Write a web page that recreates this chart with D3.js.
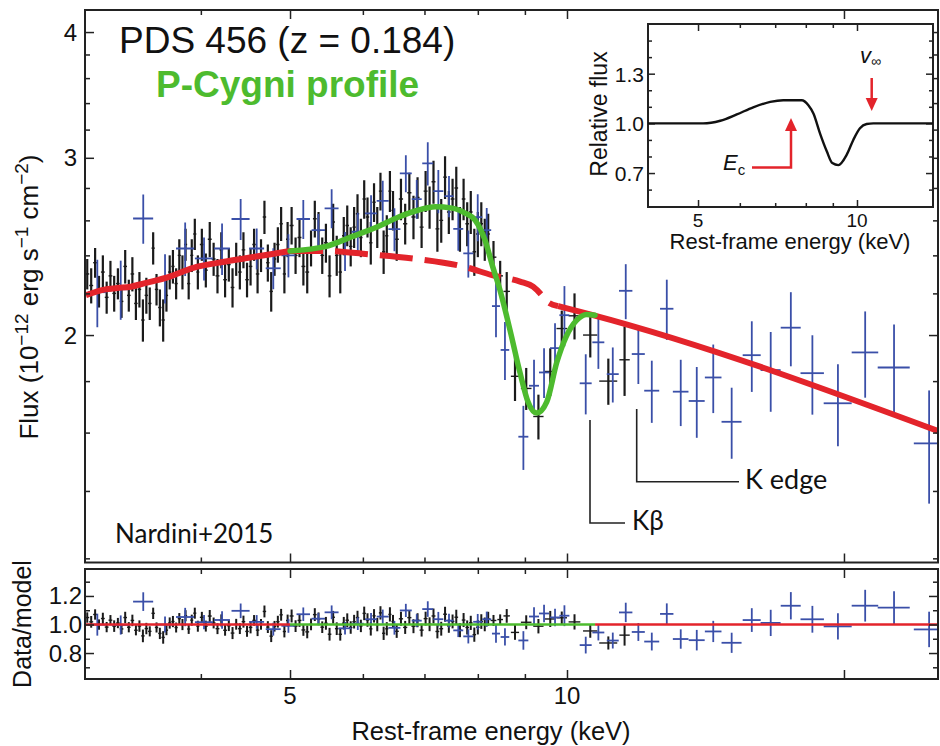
<!DOCTYPE html>
<html><head><meta charset="utf-8">
<script src="https://cdn.jsdelivr.net/npm/d3@7"></script>
<style>
html,body{margin:0;padding:0;background:#fff;}
svg{display:block;}
text{font-family:"Liberation Sans", Arial, Helvetica, sans-serif;fill:#111;}
.lato{font-family:Lato, "Open Sans", sans-serif;}
.axis path.domain{display:none;}
.axis line{stroke:#222;stroke-width:1.5;}
</style></head><body>
<svg id="chart" width="940" height="746"></svg>
<script>
// ---------------- DATA ----------------
// XMM-Newton (black): [energy keV, flux, error, half bin width]
const pnPoints = [
[3.01,2.30,0.08,0.015],[3.04,2.24,0.09,0.015],[3.07,2.36,0.08,0.015],[3.10,2.21,0.08,0.015],[3.13,2.31,0.09,0.015],
[3.16,2.18,0.08,0.015],[3.19,2.29,0.08,0.015],[3.22,2.20,0.09,0.015],[3.25,2.25,0.08,0.015],[3.28,2.16,0.08,0.015],
[3.31,2.34,0.09,0.015],[3.34,2.19,0.08,0.015],[3.37,2.30,0.09,0.015],[3.40,2.15,0.08,0.015],[3.43,2.22,0.09,0.015],
[3.46,2.07,0.10,0.015],[3.49,2.19,0.09,0.015],[3.52,2.15,0.08,0.015],[3.55,2.44,0.09,0.015],[3.58,2.22,0.08,0.015],
[3.61,2.13,0.09,0.015],[3.64,2.07,0.10,0.015],[3.67,2.19,0.08,0.015],[3.70,2.31,0.09,0.015],[3.73,2.34,0.09,0.015],
[3.76,2.25,0.08,0.015],[3.79,2.40,0.09,0.015],[3.82,2.31,0.09,0.015],[3.85,2.46,0.09,0.015],[3.88,2.25,0.08,0.015],
[3.91,2.40,0.09,0.015],[3.94,2.52,0.09,0.015],[3.97,2.31,0.09,0.015],
[4.01,2.46,0.09,0.02],[4.05,2.32,0.09,0.02],[4.09,2.49,0.10,0.02],[4.13,2.38,0.09,0.02],[4.17,2.29,0.09,0.02],
[4.21,2.43,0.10,0.02],[4.25,2.27,0.09,0.02],[4.29,2.35,0.09,0.02],[4.33,2.23,0.10,0.02],[4.37,2.38,0.09,0.02],
[4.41,2.31,0.09,0.02],[4.45,2.43,0.10,0.02],[4.49,2.27,0.09,0.02],[4.53,2.34,0.10,0.02],[4.57,2.46,0.09,0.02],
[4.61,2.30,0.10,0.02],[4.65,2.40,0.09,0.02],[4.69,2.62,0.10,0.02],[4.73,2.36,0.10,0.02],[4.77,2.21,0.10,0.02],
[4.81,2.38,0.09,0.02],[4.85,2.46,0.10,0.02],[4.89,2.58,0.10,0.02],[4.93,2.30,0.10,0.02],[4.97,2.49,0.10,0.02],
[5.02,2.57,0.11,0.025],[5.07,2.40,0.10,0.025],[5.12,2.50,0.11,0.025],[5.17,2.34,0.10,0.025],[5.22,2.31,0.11,0.025],
[5.27,2.44,0.10,0.025],[5.32,2.61,0.11,0.025],[5.37,2.54,0.11,0.025],[5.42,2.40,0.10,0.025],[5.47,2.47,0.11,0.025],
[5.52,2.29,0.11,0.025],[5.57,2.59,0.11,0.025],[5.62,2.40,0.11,0.025],[5.67,2.31,0.11,0.025],[5.72,2.51,0.11,0.025],
[5.77,2.57,0.12,0.025],[5.82,2.45,0.11,0.025],[5.87,2.56,0.12,0.025],[5.92,2.64,0.12,0.025],[5.97,2.50,0.11,0.025],
[6.02,2.73,0.12,0.025],[6.07,2.62,0.12,0.025],[6.12,2.47,0.12,0.025],[6.17,2.71,0.12,0.025],[6.22,2.56,0.12,0.025],
[6.27,2.78,0.12,0.025],[6.32,2.42,0.12,0.025],[6.37,2.51,0.12,0.025],[6.42,2.78,0.13,0.025],[6.47,2.66,0.12,0.025],
[6.53,2.49,0.12,0.035],[6.60,2.73,0.13,0.035],[6.67,2.58,0.12,0.035],[6.74,2.77,0.13,0.035],[6.81,2.62,0.13,0.035],
[6.88,2.74,0.13,0.035],[6.95,2.56,0.12,0.035],[7.02,2.78,0.13,0.035],[7.09,2.68,0.13,0.035],[7.16,2.84,0.14,0.035],
[7.23,2.55,0.13,0.035],[7.30,2.60,0.13,0.035],[7.37,2.87,0.14,0.035],[7.44,2.65,0.13,0.035],[7.51,2.73,0.13,0.035],
[7.58,2.80,0.14,0.035],[7.65,2.55,0.13,0.035],[7.72,2.73,0.13,0.035],[7.79,2.58,0.13,0.035],[7.86,2.65,0.13,0.035],
[7.93,2.42,0.13,0.035],[8.00,2.52,0.13,0.035],[8.07,2.58,0.13,0.035],[8.14,2.49,0.12,0.035],[8.21,2.52,0.12,0.035],
[8.32,2.39,0.09,0.06],[8.46,2.29,0.08,0.06],[8.60,2.21,0.10,0.07],[8.78,1.82,0.10,0.09],[9.03,1.77,0.085,0.12],
[9.31,1.66,0.085,0.12],[9.59,1.84,0.10,0.13],[9.87,2.03,0.085,0.13],[10.19,2.09,0.11,0.15],[10.60,2.00,0.10,0.19],
[11.09,1.80,0.095,0.25],[11.55,1.89,0.15,0.15]
];
// NuSTAR (blue): [energy keV, flux, error, half bin width]
const nuPoints = [
[3.087,2.206,0.17,0.07],[3.273,2.221,0.15,0.074],[3.463,2.611,0.147,0.087],[3.657,2.278,0.128,0.082],
[3.846,2.438,0.149,0.087],[4.032,2.383,0.117,0.091],[4.218,2.438,0.144,0.084],[4.419,2.608,0.122,0.10],
[4.600,2.438,0.114,0.086],[4.795,2.330,0.109,0.09],[4.980,2.400,0.118,0.087],[5.169,2.608,0.116,0.087],
[5.367,2.543,0.095,0.09],[5.549,2.672,0.119,0.097],[5.738,2.424,0.108,0.093],[5.924,2.533,0.112,0.089],
[6.124,2.642,0.111,0.092],[6.306,2.719,0.127,0.095],[6.493,2.548,0.125,0.098],[6.681,2.895,0.122,0.10],
[6.866,2.730,0.121,0.086],[7.058,2.962,0.146,0.097],[7.247,2.780,0.137,0.091],[7.443,2.748,0.129,0.084],
[7.618,2.550,0.125,0.095],[7.812,2.411,0.13,0.098],[7.998,2.619,0.141,0.09],[8.180,2.543,0.131,0.092],
[8.372,2.137,0.147,0.084],[8.562,1.933,0.128,0.092],[8.966,1.585,0.116,0.112],[9.208,1.781,0.109,0.115],
[9.442,1.836,0.104,0.118],[9.705,1.941,0.114,0.121],[9.936,2.093,0.144,0.124],[10.48,1.791,0.123,0.157],
[10.817,1.967,0.116,0.162],[11.214,1.829,0.115,0.168],[11.584,2.213,0.139,0.194],[11.955,1.915,0.127,0.195],
[12.364,1.761,0.125,0.232],[12.837,2.124,0.146,0.215],[13.293,1.757,0.133,0.26],[13.837,1.720,0.139,0.277],
[14.42,1.815,0.142,0.30],[15.10,1.640,0.133,0.378],[15.88,1.910,0.154,0.358],[16.65,1.846,0.168,0.417],
[17.51,2.034,0.172,0.438],[18.48,1.833,0.166,0.541],[19.70,1.711,0.16,0.69],[21.09,1.922,0.189,0.70],
[22.67,1.857,0.192,0.908],[24.75,1.561,0.201,0.93]
];
// continuum model (red)
const contE = [3.0,3.14,3.245,3.357,3.47,3.679,3.933,4.169,4.457,4.764,5.0,5.458,6.078,6.888,7.748,8.289,8.892,9.186,9.389,9.506,9.779,10.595,25.3];
const contF = [2.191,2.219,2.227,2.234,2.251,2.282,2.334,2.359,2.383,2.406,2.424,2.424,2.406,2.379,2.337,2.294,2.260,2.234,2.191,2.161,2.137,2.097,1.606];
// P-Cygni model (green)
const pcygE = [5.0,5.458,5.836,6.233,6.553,6.888,7.188,7.501,7.748,7.945,8.147,8.311,8.457,8.671,8.892,9.072,9.272,9.506,9.748,9.977,10.247,10.508,10.728];
const pcygF = [2.424,2.448,2.505,2.564,2.619,2.661,2.682,2.674,2.644,2.602,2.484,2.332,2.216,2.023,1.834,1.716,1.673,1.716,1.879,1.992,2.069,2.096,2.093];
// inset profile
const insetE = [4.02,5.11,5.51,5.92,6.36,6.85,7.25,7.86,8.09,8.27,8.51,8.77,8.98,9.22,9.56,9.84,10.13,10.43,10.74,13.93];
const insetF = [1.0,1.0,1.016,1.054,1.097,1.13,1.14,1.14,1.11,1.06,0.94,0.83,0.76,0.748,0.81,0.90,0.97,0.996,1.0,1.0];
// ticks
const xMajor = [5,10,20], xLabeled = [5,10], xMinor = [4,6,7,8,9];
const yMajor = [2,3,4], yMinor = [1.2,1.4,1.6,1.8,2.2,2.4,2.6,2.8,3.2,3.4,3.6,3.8];
const rMajor = [0.8,1.0,1.2], rMinor = [0.7,0.9,1.1,1.3];
const iXMajor = [5,10], iXMinor = [6,7,8,9];
const iYMajor = [0.7,1.0,1.3], iYMinor = [0.6,0.8,0.9,1.1,1.2,1.4,1.5];

// ---------------- COLOURS ----------------
const BLACK="#1a1a1a", BLUE="#3a4fa8", RED="#e3242b", GREEN="#4dbb2e", FRAME="#222";

// ---------------- SCALES ----------------
const svg = d3.select("#chart");
const x  = d3.scaleLog().domain([3, 25.3]).range([85.9, 937.9]);
const y  = d3.scaleLog().domain([1.19, 4.207]).range([562, 10]);
const yr = d3.scaleLinear().domain([0.618, 1.389]).range([679, 569]);
const xi = d3.scaleLog().domain([4.02, 13.93]).range([648, 933]);
const yi = d3.scaleLinear().domain([0.495, 1.6]).range([207, 24]);

const P = {l:85, r:938, t:10, b:562.5, rt:569, rb:679};

function interpLog(Es, Fs, e){
  for(let i=0;i<Es.length-1;i++){
    if(e<=Es[i+1]){
      const t=(Math.log(e)-Math.log(Es[i]))/(Math.log(Es[i+1])-Math.log(Es[i]));
      return Math.exp(Math.log(Fs[i])+t*(Math.log(Fs[i+1])-Math.log(Fs[i])));
    }
  }
  return Fs[Fs.length-1];
}
function model(e){
  return (e>=pcygE[0] && e<=pcygE[pcygE.length-1]) ? interpLog(pcygE,pcygF,e) : interpLog(contE,contF,e);
}

// clip paths
const defs = svg.append("defs");
defs.append("clipPath").attr("id","clipMain").append("rect").attr("x",P.l).attr("y",P.t).attr("width",P.r-P.l).attr("height",P.b-P.t);
defs.append("clipPath").attr("id","clipRes").append("rect").attr("x",P.l).attr("y",P.rt).attr("width",P.r-P.l).attr("height",P.rb-P.rt);

// ---------------- MAIN PANEL ----------------
const gMain = svg.append("g").attr("clip-path","url(#clipMain)");

function drawPoints(g, pts, color, xs, ys, valFn, errFn, vw, hw){
  const sel = g.append("g").selectAll("g").data(pts).join("g");
  sel.append("line")
    .attr("x1", d=>xs(d[0])).attr("x2", d=>xs(d[0]))
    .attr("y1", d=>ys(valFn(d)-errFn(d))).attr("y2", d=>ys(valFn(d)+errFn(d)))
    .attr("stroke", color).attr("stroke-width", vw);
  sel.append("line")
    .attr("x1", d=>xs(d[0]-d[3])).attr("x2", d=>xs(d[0]+d[3]))
    .attr("y1", d=>ys(valFn(d))).attr("y2", d=>ys(valFn(d)))
    .attr("stroke", color).attr("stroke-width", hw);
}

drawPoints(gMain, pnPoints, BLACK, x, y, d=>d[1], d=>d[2], 2.2, 1.4);
drawPoints(gMain, nuPoints, BLUE, x, y, d=>d[1], d=>d[2], 1.8, 1.8);

const lineMain = d3.line().x(d=>x(d[0])).y(d=>y(d[1])).curve(d3.curveMonotoneX);
const contPts = contE.map((e,i)=>[e,contF[i]]);
const segA = contPts.filter(d=>d[0]<=5.0);
const segB = contPts.filter(d=>d[0]>=5.0 && d[0]<=9.779);
const segC = contPts.filter(d=>d[0]>=9.779);
gMain.append("path").attr("d",lineMain(segA)).attr("fill","none").attr("stroke",RED).attr("stroke-width",6);
gMain.append("path").attr("d",lineMain(segB)).attr("fill","none").attr("stroke",RED).attr("stroke-width",6).attr("stroke-dasharray","33 12");
gMain.append("path").attr("d",lineMain(segC)).attr("fill","none").attr("stroke",RED).attr("stroke-width",6);
gMain.append("path").attr("d",lineMain(pcygE.map((e,i)=>[e,pcygF[i]]))).attr("fill","none").attr("stroke",GREEN).attr("stroke-width",5.5).attr("stroke-linecap","round");

// frame main
svg.append("rect").attr("x",P.l).attr("y",P.t).attr("width",P.r-P.l).attr("height",P.b-P.t).attr("fill","none").attr("stroke",FRAME).attr("stroke-width",2);

function axes(xs, ys, top, bottom, left, right, xMaj, xMin, yMaj, yMin, majLen, minLen){
  const mk = (gen, vals, len, tr)=>{
    const g = svg.append("g").attr("class","axis").attr("transform",tr)
      .call(gen.tickValues(vals).tickSize(-len).tickFormat(""));
    g.selectAll("text").remove();
    return g;
  };
  mk(d3.axisBottom(xs), xMaj, majLen, `translate(0,${bottom})`);
  mk(d3.axisBottom(xs), xMin, minLen, `translate(0,${bottom})`);
  mk(d3.axisTop(xs), xMaj, majLen, `translate(0,${top})`);
  mk(d3.axisTop(xs), xMin, minLen, `translate(0,${top})`);
  mk(d3.axisLeft(ys), yMaj, majLen, `translate(${left},0)`);
  mk(d3.axisLeft(ys), yMin, minLen, `translate(${left},0)`);
  mk(d3.axisRight(ys), yMaj, majLen, `translate(${right},0)`);
  mk(d3.axisRight(ys), yMin, minLen, `translate(${right},0)`);
}
axes(x, y, P.t, P.b, P.l, P.r, xMajor, xMinor, yMajor, yMinor, 9, 5);

// main y tick labels
svg.append("g").selectAll("text").data(yMajor).join("text")
  .attr("x",77).attr("y",d=>y(d)+8.5).attr("text-anchor","end").style("font-size","24px").text(d=>d);

// ---------------- RESIDUAL PANEL ----------------
const gRes = svg.append("g").attr("clip-path","url(#clipRes)");
drawPoints(gRes, pnPoints, BLACK, x, yr, d=>d[1]/model(d[0]), d=>d[2]/model(d[0]), 2.0, 1.4);
drawPoints(gRes, nuPoints, BLUE, x, yr, d=>d[1]/model(d[0]), d=>d[2]/model(d[0]), 1.8, 1.8);
gRes.append("line").attr("x1",x(3)).attr("x2",x(5)).attr("y1",yr(1)).attr("y2",yr(1)).attr("stroke",RED).attr("stroke-width",2.5);
gRes.append("line").attr("x1",x(5)).attr("x2",x(pcygE[pcygE.length-1])).attr("y1",yr(1)).attr("y2",yr(1)).attr("stroke",GREEN).attr("stroke-width",2.5);
gRes.append("line").attr("x1",x(pcygE[pcygE.length-1])).attr("x2",x(25.3)).attr("y1",yr(1)).attr("y2",yr(1)).attr("stroke",RED).attr("stroke-width",2.5);

svg.append("rect").attr("x",P.l).attr("y",P.rt).attr("width",P.r-P.l).attr("height",P.rb-P.rt).attr("fill","none").attr("stroke",FRAME).attr("stroke-width",2);
axes(x, yr, P.rt, P.rb, P.l, P.r, xMajor, xMinor, rMajor, rMinor, 9, 5);

svg.append("g").selectAll("text").data(rMajor).join("text")
  .attr("x",82).attr("y",d=>yr(d)+8.5).attr("text-anchor","end").style("font-size","24px").text(d=>d.toFixed(1));
svg.append("g").selectAll("text").data(xLabeled).join("text")
  .attr("x",d=>x(d)).attr("y",704).attr("text-anchor","middle").style("font-size","24px").text(d=>d);

// axis titles
svg.append("text").attr("x",491).attr("y",740).attr("text-anchor","middle").style("font-size","25.5px").text("Rest-frame energy (keV)");
svg.append("text").attr("transform","translate(31,624) rotate(-90)").attr("text-anchor","middle").style("font-size","25px").text("Data/model");
const yl = svg.append("text").attr("transform","translate(38,297) rotate(-90)").attr("text-anchor","middle").style("font-size","26px");
yl.append("tspan").text("Flux (10");
yl.append("tspan").attr("dy",-10).style("font-size","19px").text("−12");
yl.append("tspan").attr("dy",10).text(" erg s");
yl.append("tspan").attr("dy",-10).style("font-size","19px").text("−1");
yl.append("tspan").attr("dy",10).text(" cm");
yl.append("tspan").attr("dy",-10).style("font-size","19px").text("−2");
yl.append("tspan").attr("dy",10).text(")");

// titles
svg.append("text").attr("x",119).attr("y",53).style("font-size","37px").text("PDS 456 (z = 0.184)");
svg.append("text").attr("x",156).attr("y",97).style("font-size","37px").style("font-weight","bold").style("fill",GREEN).text("P-Cygni profile");
svg.append("text").attr("class","lato").attr("x",115).attr("y",543).style("font-size","26px").text("Nardini+2015");

// annotations
svg.append("path").attr("d","M590,420 V523 H625").attr("fill","none").attr("stroke",FRAME).attr("stroke-width",1.6);
svg.append("path").attr("d","M636.7,409 V481.7 H739").attr("fill","none").attr("stroke",FRAME).attr("stroke-width",1.6);
svg.append("text").attr("class","lato").attr("x",632).attr("y",530).style("font-size","26px").text("Kβ");
svg.append("text").attr("class","lato").attr("x",745).attr("y",489).style("font-size","27px").text("K edge");

// ---------------- INSET ----------------
svg.append("rect").attr("x",648).attr("y",24).attr("width",285).attr("height",183).attr("fill","#fff").attr("stroke",FRAME).attr("stroke-width",2);
axes(xi, yi, 24, 207, 648, 933, iXMajor, iXMinor, iYMajor, iYMinor, 7, 4);
const lineIn = d3.line().x(d=>xi(d[0])).y(d=>yi(d[1])).curve(d3.curveMonotoneX);
svg.append("path").attr("d",lineIn(insetE.map((e,i)=>[e,insetF[i]]))).attr("fill","none").attr("stroke","#111").attr("stroke-width",2.4);
svg.append("g").selectAll("text").data(iYMajor).join("text")
  .attr("x",644).attr("y",d=>yi(d)+8).attr("text-anchor","end").style("font-size","21px").text(d=>d.toFixed(1));
svg.append("g").selectAll("text").data(iXMajor).join("text")
  .attr("x",d=>xi(d)).attr("y",227).attr("text-anchor","middle").style("font-size","19px").text(d=>d);
svg.append("text").attr("x",790).attr("y",249).attr("text-anchor","middle").style("font-size","22px").text("Rest-frame energy (keV)");
svg.append("text").attr("transform","translate(607,114) rotate(-90)").attr("text-anchor","middle").style("font-size","23px").text("Relative flux");

// inset arrows
svg.append("line").attr("x1",871.7).attr("x2",871.7).attr("y1",78).attr("y2",100).attr("stroke",RED).attr("stroke-width",2.5);
svg.append("path").attr("d","M865.7,98 L877.7,98 L871.7,111 Z").attr("fill",RED);
svg.append("path").attr("d","M752,167.5 H791 V129").attr("fill","none").attr("stroke",RED).attr("stroke-width",2.5);
svg.append("path").attr("d","M785,131 L797,131 L791,118 Z").attr("fill",RED);
const ec = svg.append("text").attr("x",723).attr("y",170).style("font-size","22px");
ec.append("tspan").style("font-style","italic").text("E");
ec.append("tspan").attr("dy",5).style("font-size","15px").text("c");
const vi = svg.append("text").attr("x",860).attr("y",63).style("font-size","22px");
vi.append("tspan").style("font-style","italic").text("v");
vi.append("tspan").attr("dy",3).style("font-size","14px").text("∞");
</script>
</body></html>
